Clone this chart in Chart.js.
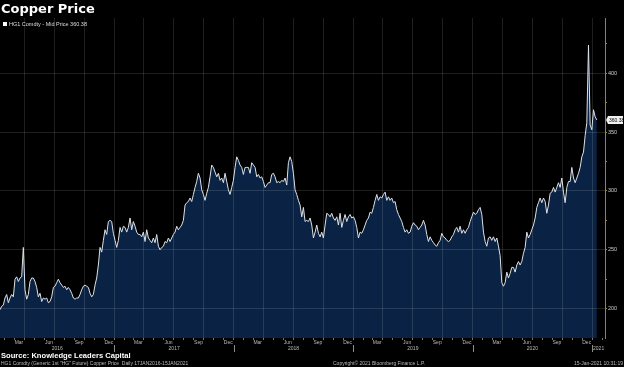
<!DOCTYPE html>
<html>
<head>
<meta charset="utf-8">
<title>Copper Price</title>
<script src="https://cdn.jsdelivr.net/npm/chart.js@4.4.1/dist/chart.umd.min.js"></script>
<style>
  html, body { margin: 0; padding: 0; background: #000; }
  #wrap { position: relative; width: 624px; height: 367px; overflow: hidden; font-family: "Liberation Sans", Arial, sans-serif; }
  #wrap canvas { position: absolute; left: 0; top: 0; }
  .txt { position: absolute; white-space: nowrap; line-height: 1; }
  #title { left: 1px; top: 2px; font: bold 13px "DejaVu Sans", sans-serif; line-height: 13px; color: #fff; }
  #legend { left: 3px; top: 21.8px; font-size: 5.5px; color: #ddd; }
  #legend .box { display: inline-block; width: 4px; height: 4px; background: #fff; margin-right: 2px; vertical-align: top; margin-top: 0.5px; }
  #source { left: 1px; top: 352px; font-weight: bold; font-size: 7.6px; color: #fff; }
  .foot { top: 360.8px; font-size: 5px; color: #bbb; }
</style>
</head>
<body>
<div id="wrap">
  <canvas id="copperChart" width="624" height="367"></canvas>
  <div class="txt" id="title">Copper Price</div>
  <div class="txt" id="legend"><span class="box"></span><span id="legendText"></span></div>
  <div class="txt" id="source">Source: Knowledge Leaders Capital</div>
  <div class="txt foot" style="left:1px">HG1 Comdty (Generic 1st "HG" Future) Copper Price&nbsp; Daily 17JAN2016-15JAN2021</div>
  <div class="txt foot" style="left:333px">Copyright© 2021 Bloomberg Finance L.P.</div>
  <div class="txt foot" style="right:1px">15-Jan-2021 10:31:19</div>
</div>
<script>
// HG1 Comdty mid price, evenly spaced from startDate to endDate
const startDate = '2016-01-17';
const endDate = '2021-01-15';
const axisEndDate = '2021-02-09';

const prices = [
    // 2016
    199, 202, 203, 209, 212, 205, 209, 212, 210, 225, 227, 223, 226, 227, 252, 216, 208, 212, 223, 226,
    226, 223, 218, 210, 213, 206, 209, 208, 209, 205, 206, 210, 218, 219, 222, 225, 222, 220, 218, 219,
    216, 218, 216, 213, 209, 208, 209, 209, 212, 216, 219, 220, 219, 218, 213, 210, 212, 220, 226, 237,
    // late 2016 - 2017
    252, 248, 258, 267, 263, 274, 275, 274, 264, 258, 252, 258, 269, 265, 270, 269, 265, 269, 277, 267,
    274, 270, 265, 263, 263, 261, 265, 257, 267, 260, 258, 256, 260, 256, 263, 253, 250, 252, 253, 257,
    256, 260, 257, 260, 263, 265, 270, 267, 269, 271, 275, 288, 290, 291, 294, 291, 297, 303, 308, 315,
    // late 2017 - mid 2018
    311, 301, 297, 292, 298, 303, 312, 322, 320, 316, 312, 315, 309, 311, 307, 315, 308, 301, 297, 303,
    309, 320, 329, 326, 322, 320, 314, 320, 320, 320, 315, 324, 322, 320, 312, 314, 311, 312, 308, 303,
    305, 307, 307, 314, 315, 312, 307, 308, 307, 309, 308, 311, 305, 324, 329, 325, 315, 301, 297, 292,
    // mid 2018 - mid 2019
    288, 278, 286, 274, 275, 274, 277, 271, 260, 265, 271, 264, 261, 265, 260, 271, 281, 280, 278, 281,
    277, 275, 278, 271, 281, 269, 275, 280, 274, 278, 280, 277, 278, 275, 269, 260, 265, 264, 267, 271,
    275, 277, 282, 281, 286, 292, 297, 292, 295, 294, 297, 299, 292, 295, 292, 294, 290, 291, 284, 280,
    // mid 2019 - early 2020
    277, 274, 269, 265, 267, 264, 265, 270, 273, 271, 270, 267, 269, 271, 275, 271, 263, 257, 261, 258,
    256, 254, 253, 256, 258, 264, 261, 260, 258, 257, 258, 261, 263, 267, 269, 265, 270, 264, 267, 264,
    267, 269, 274, 278, 282, 280, 281, 284, 286, 280, 265, 257, 253, 260, 261, 258, 261, 257, 260, 253,
    // 2020 - Jan 2021
    245, 222, 219, 222, 231, 226, 230, 235, 235, 231, 237, 240, 237, 240, 247, 252, 265, 260, 263, 267,
    271, 277, 286, 290, 294, 290, 294, 291, 281, 288, 298, 299, 303, 299, 303, 307, 303, 311, 299, 290,
    303, 308, 308, 320, 311, 307, 311, 315, 320, 329, 333, 347, 358, 424, 356, 352, 369, 363, 360.38
];
const lastPrice = prices[prices.length - 1];

// tick labels
const monthLabels = ['Mar', 'Jun', 'Sep', 'Dec'];
const monthLabelIdx = [2, 5, 8, 11];
const yearLabels = ['2016', '2017', '2018', '2019', '2020', '2021'];
const priceTicks = [200, 250, 300, 350, 400];
const minorPriceTicks = [225, 275, 325, 375, 425];

const gridColor = 'rgba(255, 255, 255, 0.12)';
const axisGold = '#9a8530';

function dayOffset(dateStr) {
    return (Date.parse(dateStr + 'T00:00:00Z') - Date.parse(startDate + 'T00:00:00Z')) / 86400000;
}

const xMax = dayOffset(axisEndDate);
const step = dayOffset(endDate) / (prices.length - 1);
const points = prices.map((p, i) => ({ x: i * step, y: p }));

// month boundaries (tick marks) and quarter boundaries (grid lines)
const monthTicks = [];
const quarterTicks = new Set();
const monthLabelTicks = [];
yearLabels.forEach(yr => {
    for (let m = 0; m < 12; m++) {
        const mm = String(m + 1).padStart(2, '0');
        const d = dayOffset(yr + '-' + mm + '-01');
        if (d > 0 && d < xMax) {
            monthTicks.push(d);
            if (m % 3 === 0) quarterTicks.add(d);
        }
        const li = monthLabelIdx.indexOf(m);
        const mid = dayOffset(yr + '-' + mm + '-15');
        if (li >= 0 && mid > 0 && mid < xMax) {
            monthLabelTicks.push({ value: mid, label: monthLabels[li] });
        }
    }
});

// year labels sit in the middle of the visible part of each year
const yearTicks = yearLabels.map(yr => {
    const a = Math.max(0, dayOffset(yr + '-01-01'));
    const b = Math.min(xMax, dayOffset((+yr + 1) + '-01-01'));
    return { value: (a + b) / 2, label: yr };
});

document.getElementById('legendText').textContent = 'HG1 Comdty - Mid Price ' + lastPrice.toFixed(2);

// little separators between the years on the bottom row
const yearSeparators = {
    id: 'yearSeparators',
    afterDraw(chart) {
        const xs = chart.scales.xYear;
        const c = chart.ctx;
        c.save();
        c.strokeStyle = '#8a8a8a';
        c.lineWidth = 1;
        yearLabels.slice(1).forEach(yr => {
            const px = Math.round(xs.getPixelForValue(dayOffset(yr + '-01-01'))) + 0.5;
            c.beginPath();
            c.moveTo(px, xs.top - 1);
            c.lineTo(px, xs.bottom - 1);
            c.stroke();
        });
        c.restore();
    }
};

// last price tag on the right axis
const lastPriceTag = {
    id: 'lastPriceTag',
    afterDraw(chart) {
        const ys = chart.scales.y;
        const y = ys.getPixelForValue(lastPrice);
        const x0 = ys.left + 1;
        const c = chart.ctx;
        c.save();
        c.fillStyle = '#f0f0f0';
        c.beginPath();
        c.moveTo(x0, y);
        c.lineTo(x0 + 2, y - 4);
        c.lineTo(623, y - 4);
        c.lineTo(623, y + 4);
        c.lineTo(x0 + 2, y + 4);
        c.closePath();
        c.fill();
        c.fillStyle = '#000';
        c.font = '5px "Liberation Sans", Arial, sans-serif';
        c.textBaseline = 'middle';
        c.fillText(lastPrice.toFixed(2), x0 + 3, y + 0.5);
        c.restore();
    }
};

Chart.defaults.font.family = '"Liberation Sans", Arial, sans-serif';

const ctx = document.getElementById('copperChart').getContext('2d');
new Chart(ctx, {
    type: 'line',
    data: {
        datasets: [{
            label: 'HG1 Comdty - Mid Price',
            data: points,
            borderColor: '#dde2e8',
            borderWidth: 1,
            backgroundColor: '#0a2344',
            fill: 'start',
            pointRadius: 0,
            tension: 0
        }]
    },
    options: {
        responsive: false,
        animation: false,
        devicePixelRatio: 1,
        layout: { padding: { top: 18, bottom: 14, left: 0, right: 0 } },
        plugins: {
            legend: { display: false },
            tooltip: { enabled: false }
        },
        scales: {
            x: {
                type: 'linear',
                min: 0,
                max: xMax,
                afterBuildTicks: axis => { axis.ticks = monthTicks.map(v => ({ value: v })); },
                afterFit: axis => { axis.height = 2; },
                grid: {
                    z: 1,
                    color: c => (c.tick && quarterTicks.has(c.tick.value)) ? gridColor : 'rgba(0,0,0,0)',
                    tickColor: '#777',
                    tickLength: 2
                },
                border: { display: false },
                ticks: { display: false }
            },
            xMonth: {
                type: 'linear',
                position: 'bottom',
                weight: 1,
                min: 0,
                max: xMax,
                afterBuildTicks: axis => { axis.ticks = monthLabelTicks.map(t => ({ value: t.value })); },
                afterFit: axis => { axis.height = 6; },
                grid: { display: false, drawTicks: false },
                border: { display: false },
                ticks: {
                    color: '#bbb',
                    font: { size: 5 },
                    padding: 0,
                    autoSkip: false,
                    maxRotation: 0,
                    callback: (v, i) => monthLabelTicks[i].label
                }
            },
            xYear: {
                type: 'linear',
                position: 'bottom',
                weight: 2,
                min: 0,
                max: xMax,
                afterBuildTicks: axis => { axis.ticks = yearTicks.map(t => ({ value: t.value })); },
                afterFit: axis => { axis.height = 7; },
                grid: { display: false, drawTicks: false },
                border: { display: false },
                ticks: {
                    color: '#bbb',
                    font: { size: 5 },
                    padding: 0,
                    autoSkip: false,
                    maxRotation: 0,
                    callback: (v, i) => yearTicks[i].label
                }
            },
            y: {
                position: 'right',
                min: 175,
                max: 447,
                afterBuildTicks: axis => {
                    axis.ticks = priceTicks.concat(minorPriceTicks).sort((a, b) => a - b).map(v => ({ value: v }));
                },
                afterFit: axis => { axis.width = 19; },
                grid: {
                    z: 1,
                    color: c => (c.tick && priceTicks.includes(c.tick.value)) ? gridColor : 'rgba(0,0,0,0)',
                    tickColor: axisGold,
                    tickLength: 2
                },
                // border drawn after the grid so its position is already known
                border: { color: axisGold, z: 2 },
                ticks: {
                    color: '#ccc',
                    font: { size: 5.5 },
                    padding: 1,
                    autoSkip: false,
                    callback: v => priceTicks.includes(v) ? v : ''
                }
            }
        }
    },
    plugins: [yearSeparators, lastPriceTag]
});
</script>
</body>
</html>
